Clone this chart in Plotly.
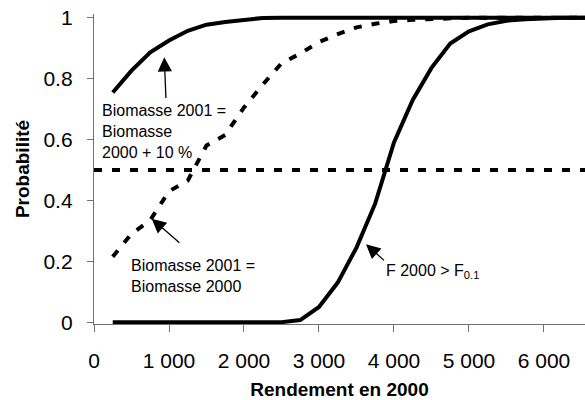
import plotly.graph_objects as go

# ---- data ----
rendement = [250, 500, 750, 1000, 1250, 1500, 1750, 2000, 2250, 2500, 2750, 3000,
             3250, 3500, 3750, 4000, 4250, 4500, 4750, 5000, 5250, 5500, 5750,
             6000, 6250, 6500, 6750]

prob_biomasse_plus10 = [0.754, 0.826, 0.886, 0.925, 0.957, 0.977, 0.986, 0.993, 0.999,
                        1, 1, 1, 1, 1, 1, 1, 1, 1, 1, 1, 1, 1, 1, 1, 1, 1, 1]

prob_biomasse_egale = [0.215, 0.29, 0.335, 0.43, 0.465, 0.58, 0.615, 0.705, 0.78,
                       0.85, 0.882, 0.92, 0.946, 0.968, 0.98, 0.989, 0.993, 0.996,
                       1, 1, 1, 1, 1, 1, 1, 1, 1]

prob_f_sup_f01 = [0, 0, 0, 0, 0, 0, 0, 0, 0, 0, 0.007, 0.05, 0.13, 0.245, 0.39, 0.59,
                  0.73, 0.835, 0.915, 0.955, 0.978, 0.99, 0.995, 0.998, 1, 1, 1]

seuil = 0.5

x_tickvals = [0, 1000, 2000, 3000, 4000, 5000, 6000]
x_ticktext = ["0", "1 000", "2 000", "3 000", "4 000", "5 000", "6 000"]
y_tickvals = [0, 0.2, 0.4, 0.6, 0.8, 1]
y_ticktext = ["0", "0.2", "0.4", "0.6", "0.8", "1"]

FONT = "Liberation Sans, Arial, sans-serif"

fig = go.Figure()
fig.add_trace(go.Scatter(x=rendement, y=prob_biomasse_plus10, mode="lines",
                         line=dict(color="black", width=4)))
fig.add_trace(go.Scatter(x=rendement, y=prob_biomasse_egale, mode="lines",
                         line=dict(color="black", width=4, dash="8px,10px")))
fig.add_trace(go.Scatter(x=rendement, y=prob_f_sup_f01, mode="lines",
                         line=dict(color="black", width=4)))

fig.add_shape(type="line", xref="paper", x0=0, x1=1, yref="y", y0=seuil, y1=seuil,
              line=dict(color="black", width=4, dash="8px,10px"))

txt_font = dict(family=FONT, size=16, color="black")
arrow_style = dict(showarrow=True, arrowhead=2, arrowsize=2.2, arrowwidth=1.3,
                   arrowcolor="black", standoff=0,
                   xref="x", yref="y", axref="x", ayref="y",
                   align="left", font=txt_font)

# label 1: text and its arrow
fig.add_annotation(x=75, y=0.730, xref="x", yref="y", showarrow=False,
                   xanchor="left", yanchor="top", align="left", font=txt_font,
                   text="Biomasse 2001 =<br>Biomasse<br>2000 + 10 %")
fig.add_annotation(x=937, y=0.870, ax=960, ay=0.731, text="", **arrow_style)

fig.add_annotation(x=769, y=0.340, ax=1320, ay=0.222,
                   xanchor="center", yanchor="top", startstandoff=18,
                   text="Biomasse 2001 =<br>Biomasse 2000", **arrow_style)
fig.add_annotation(x=3627, y=0.256, ax=3867, ay=0.203,
                   xanchor="left", yanchor="top",
                   text="F 2000 > F<sub>0.1</sub>", **arrow_style)

fig.update_layout(
    width=585, height=400,
    margin=dict(l=94, r=0, t=14, b=76),
    paper_bgcolor="white", plot_bgcolor="white",
    showlegend=False,
    font=dict(family=FONT, color="black"),
    xaxis=dict(range=[0, 6547], tickvals=x_tickvals, ticktext=x_ticktext,
               showgrid=False, zeroline=False, showline=True,
               linecolor="#707070", linewidth=1.3,
               ticks="outside", ticklen=7, tickcolor="#707070", tickwidth=1.3,
               tickfont=dict(family=FONT, size=21, color="black"),
               ticklabelstandoff=11,
               title=dict(text="<b>Rendement en 2000</b>",
                          font=dict(family=FONT, size=19, color="black"),
                          standoff=14)),
    yaxis=dict(range=[-0.006, 1.012], tickvals=y_tickvals, ticktext=y_ticktext,
               showgrid=False, zeroline=False, showline=True,
               linecolor="#707070", linewidth=1.3,
               ticks="outside", ticklen=6, tickcolor="#707070", tickwidth=1.3,
               tickfont=dict(family=FONT, size=21, color="black"),
               ticklabelstandoff=10,
               title=dict(text="<b>Probabilité</b>",
                          font=dict(family=FONT, size=19, color="black"),
                          standoff=8)),
)

fig.write_html("out.html")
